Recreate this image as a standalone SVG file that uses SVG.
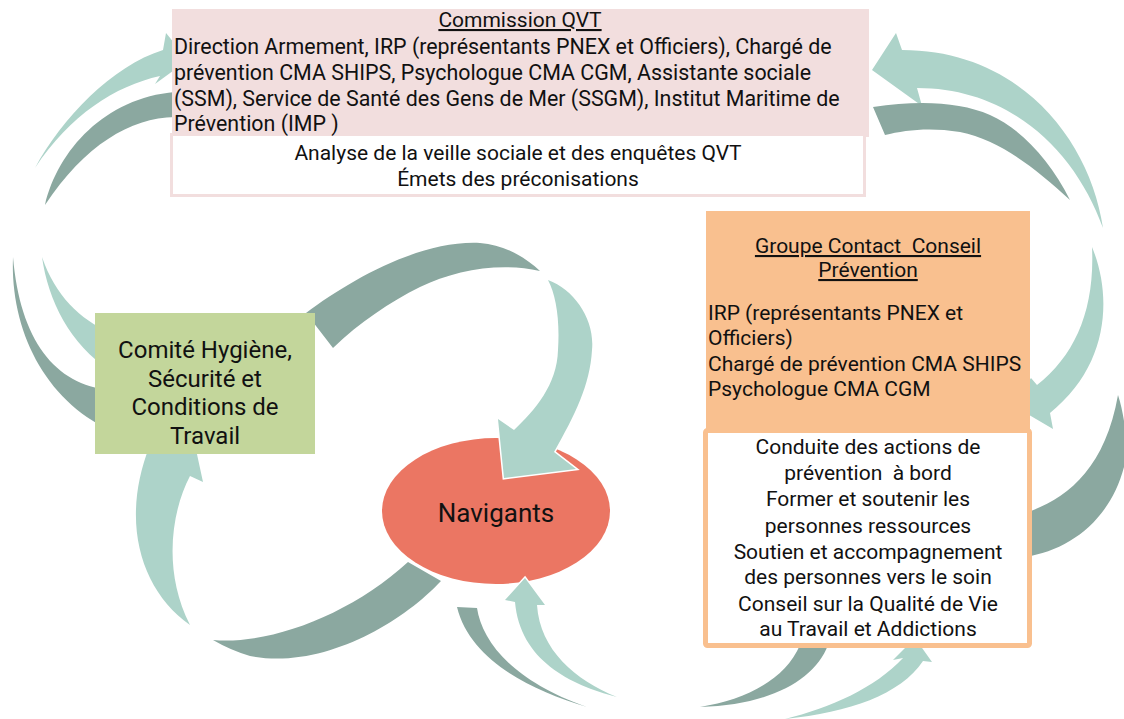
<svg xmlns="http://www.w3.org/2000/svg" width="1124" height="719" viewBox="0 0 1124 719">
<style>
text{font-family:Roboto,"Liberation Sans",sans-serif;fill:#111}
.lt{fill:#ADD3C9}
.dk{fill:#8BA8A0}
.wo{stroke:#fff;stroke-width:3;paint-order:stroke;stroke-linejoin:miter}
.t21{font-size:21px}
.tb{font-size:21.4px}
.c{text-anchor:middle}
.u{text-decoration:underline}
</style>
<rect width="1124" height="719" fill="#fff"/>
<g id="navigants">
<ellipse cx="496" cy="511" rx="114" ry="73" fill="#EB7663"/>
<text x="496" y="522" font-size="26" class="c">Navigants</text>
</g>
<g id="connectors">
<path id="a1" class="lt" d="M35,168 C62,118 112,66 163,50 L166,33 L188,60 L155,84 L160,76 C115,86 70,115 35,168 Z"/>
<path id="a2" class="dk" d="M45,205 C58,150 105,98 175,92 L175,117 C130,118 85,145 45,205 Z"/>
<path id="a3" class="dk" d="M13,257 C10,330 45,400 110,430 L110,390 C55,385 20,340 13,257 Z"/>
<path id="a4" class="lt" d="M42,257 C48,300 70,345 110,370 L110,332 C80,320 55,295 42,257 Z"/>
<path id="a5" class="dk" d="M333,348 L306,313 C350,280 420,240 480,243 C505,245 525,257 540,271 C500,262 455,270 420,287 C390,302 360,322 333,348 Z"/>
<path id="a6" class="lt wo" d="M548,280 C575,290 595,320 592,350 C590,385 575,415 554,452 L576,469 L504,478 L498,419 L514,430 C535,410 557,385 558,350 C560,320 556,295 548,280 Z"/>
<path id="a7" class="dk wo" d="M408,562 L441,581 C400,625 320,670 250,656 Q230,650 213,640 C270,645 350,615 408,562 Z"/>
<path id="a8" class="lt" d="M190,625 C140,590 120,520 150,445 L195,445 L203,482 L190,476 C172,510 162,570 190,625 Z"/>
<path id="a9" class="dk" d="M457,607 L477,608 C482,640 510,680 587,707 C530,690 470,660 457,607 Z"/>
<path id="a10" class="lt wo" d="M617,697 C570,685 520,660 515,602 L505,600 L525,578 L545,605 L537,605 C540,650 575,680 617,697 Z"/>
<path id="a11" class="dk" d="M800,645 L828,645 C815,680 770,705 700,707 C745,700 785,680 800,645 Z"/>
<path id="a12" class="lt" d="M785,719 C830,708 875,688 903,658 L893,660 L915,638 L932,662 L923,661 C900,695 850,712 785,719 Z"/>
<path id="a13" class="dk" d="M1025,513 C1065,500 1105,470 1118,395 C1126,420 1128,450 1124,467 C1110,520 1070,550 1025,557 Z"/>
<path id="a14" class="lt" d="M1103,228 C1090,140 1020,50 902,50 L896,33 L872,70 L922,106 L917,88 C1010,88 1075,150 1103,228 Z"/>
<path id="a15" class="dk" d="M873,107 C920,100 960,102 990,115 C1020,128 1050,160 1070,200 C1035,168 1000,140 960,132 C930,127 905,130 885,135 Z"/>
<path id="a16" class="lt" d="M1092,247 C1112,295 1110,365 1050,413 L1053,429 L1012,405 L1031,378 L1037,385 C1075,355 1095,310 1092,247 Z"/>
</g>
<g id="commission">
<rect x="172" y="9" width="697" height="128" fill="#F2DEDE"/>
<rect x="171.5" y="134.5" width="693" height="61" fill="#fff" stroke="#F2DEDE" stroke-width="3"/>
<text x="520" y="27" class="t21 c u">Commission QVT</text>
<text x="174" y="54" class="tb">Direction Armement, IRP (représentants PNEX et Officiers), Chargé de</text>
<text x="174" y="80" class="tb">prévention CMA SHIPS, Psychologue CMA CGM, Assistante sociale</text>
<text x="174" y="106" class="tb">(SSM), Service de Santé des Gens de Mer (SSGM), Institut Maritime de</text>
<text x="174" y="131" class="tb">Prévention (IMP )</text>
<text x="518" y="160" class="t21 c">Analyse de la veille sociale et des enquêtes QVT</text>
<text x="518" y="186" class="t21 c">Émets des préconisations</text>
</g>
<g id="chsct">
<rect x="95" y="313" width="220" height="141" fill="#C3D69B"/>
<text x="205" y="358" font-size="24" class="c">Comité Hygiène,</text>
<text x="205" y="386.5" font-size="24" class="c">Sécurité et</text>
<text x="205" y="415" font-size="24" class="c">Conditions de</text>
<text x="205" y="443.5" font-size="24" class="c">Travail</text>
</g>
<g id="groupe-contact">
<rect x="706" y="211" width="324" height="218" fill="#F9C08F"/>
<text x="868" y="253" class="t21 c u" xml:space="preserve">Groupe Contact  Conseil</text>
<text x="868" y="277" class="t21 c u">Prévention</text>
<text x="708" y="320" class="t21">IRP (représentants PNEX et</text>
<text x="708" y="345" class="t21">Officiers)</text>
<text x="708" y="371" class="t21">Chargé de prévention CMA SHIPS</text>
<text x="708" y="396" class="t21">Psychologue CMA CGM</text>
</g>
<g id="missions">
<rect x="705.5" y="430.5" width="324" height="215" rx="2" fill="#fff" stroke="#F9C08F" stroke-width="5"/>
<text x="868" y="454" class="t21 c">Conduite des actions de</text>
<text x="868" y="480" class="t21 c" xml:space="preserve">prévention  à bord</text>
<text x="868" y="506" class="t21 c">Former et soutenir les</text>
<text x="868" y="533" class="t21 c">personnes ressources</text>
<text x="868" y="559" class="t21 c">Soutien et accompagnement</text>
<text x="868" y="584" class="t21 c">des personnes vers le soin</text>
<text x="868" y="611" class="t21 c">Conseil sur la Qualité de Vie</text>
<text x="868" y="636" class="t21 c">au Travail et Addictions</text>
</g>
</svg>
